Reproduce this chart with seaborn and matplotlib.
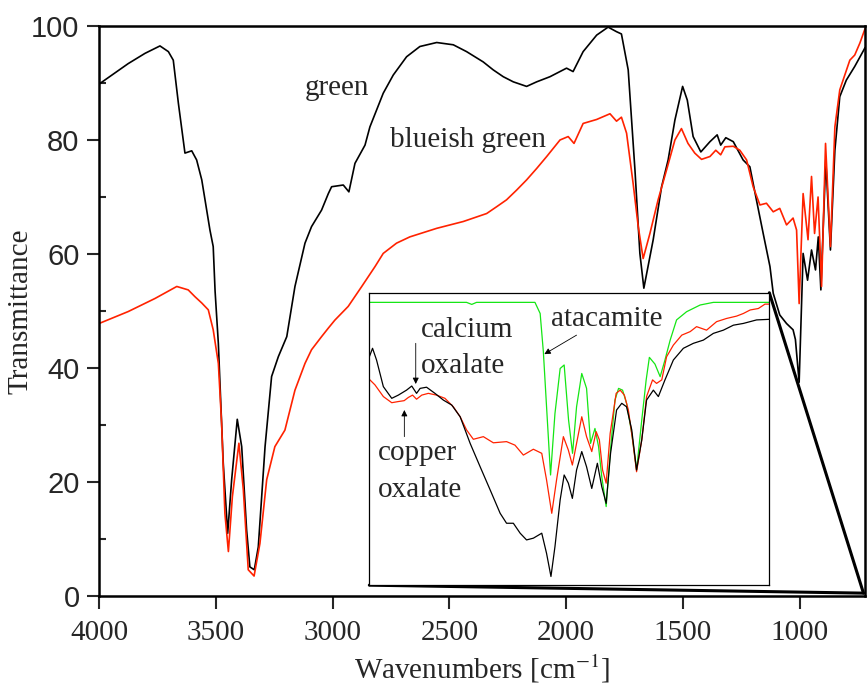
import numpy as np
import pandas as pd
import matplotlib
matplotlib.use("Agg")
import matplotlib.pyplot as plt
import seaborn as sns

# ---------- main spectra (wavenumber, transmittance) ----------
green_wn = [4000, 3875, 3803, 3739, 3703, 3682, 3660, 3632, 3603, 3582, 3560, 3525,
            3511, 3503, 3489, 3468, 3449, 3432, 3408, 3389, 3368, 3354, 3335, 3318,
            3289, 3261, 3232, 3196, 3161, 3118, 3090, 3047, 3018, 3004, 2954, 2930,
            2904, 2861, 2840, 2811, 2783, 2740, 2683, 2626, 2554, 2483, 2426, 2355,
            2312, 2269, 2226, 2169, 2126, 2069, 1998, 1970, 1927, 1869, 1820, 1784,
            1763, 1734, 1705, 1684, 1667, 1627, 1591, 1563, 1534, 1501, 1481, 1456,
            1423, 1384, 1353, 1338, 1316, 1284, 1242, 1213, 1185, 1156, 1127, 1113,
            1085, 1056, 1028, 1018, 1002, 985, 966, 949, 932, 920, 909, 888,
            868, 849, 828, 800, 764, 725, 720]
green_T = [89.8, 93.4, 95.2, 96.5, 95.5, 94.0, 86.4, 77.7, 78.1, 76.5, 73.0, 64.2,
           61.3, 53.5, 44.3, 23.3, 11.0, 20.4, 31.0, 26.2, 11.6, 5.1, 4.6, 8.6,
           26.2, 38.5, 42.0, 45.5, 54.3, 61.9, 64.8, 67.7, 70.6, 71.8, 72.1, 70.9,
           75.9, 79.1, 82.3, 85.3, 88.2, 91.4, 94.6, 96.4, 97.1, 96.7, 95.5, 93.7,
           92.3, 91.1, 90.2, 89.4, 90.2, 91.1, 92.6, 92.0, 95.5, 98.4, 99.8, 99.0,
           98.6, 92.3, 74.7, 60.1, 54.0, 62.5, 71.8, 76.5, 83.5, 89.4, 87.0, 80.6,
           77.9, 79.7, 80.9, 79.1, 80.4, 79.7, 76.5, 75.3, 69.5, 63.6, 57.8, 53.1,
           49.3, 47.8, 46.7, 45.0, 37.5, 60.1, 55.4, 60.7, 57.2, 63.0, 53.7, 76.5,
           60.7, 78.2, 87.6, 90.5, 92.9, 95.8, 96.2]

blue_wn = [4000, 3875, 3760, 3667, 3618, 3589, 3560, 3532, 3511, 3489, 3475, 3461,
           3446, 3429, 3401, 3382, 3361, 3336, 3311, 3282, 3247, 3204, 3161, 3118,
           3090, 3047, 3018, 2990, 2933, 2875, 2818, 2783, 2726, 2669, 2554, 2440,
           2340, 2297, 2255, 2212, 2169, 2126, 2083, 2026, 1991, 1966, 1927, 1869,
           1812, 1784, 1763, 1741, 1713, 1691, 1670, 1641, 1606, 1570, 1534, 1506,
           1478, 1449, 1420, 1384, 1359, 1338, 1320, 1284, 1256, 1227, 1199, 1170,
           1142, 1113, 1085, 1056, 1028, 1013, 1002, 985, 964, 949, 936, 921,
           906, 889, 868, 849, 828, 785, 764, 742, 720]
blue_T = [47.8, 49.9, 52.2, 54.3, 53.7, 52.5, 51.4, 50.2, 46.7, 40.8, 30.3, 14.5,
          7.8, 17.4, 26.8, 18.6, 4.6, 3.5, 9.2, 20.4, 26.2, 29.1, 36.1, 40.8,
          43.2, 45.5, 47.0, 48.4, 50.8, 54.3, 57.8, 60.1, 61.9, 63.0, 64.5, 65.7,
          67.1, 68.3, 69.5, 71.2, 73.0, 75.0, 77.1, 80.0, 80.6, 79.4, 82.9, 83.6,
          84.6, 83.3, 84.0, 81.2, 72.4, 64.8, 59.2, 63.6, 69.5, 74.7, 80.0, 82.0,
          79.4, 77.7, 76.6, 77.1, 78.2, 77.4, 78.8, 78.9, 78.2, 76.5, 71.8, 68.6,
          68.9, 67.4, 68.0, 65.1, 66.3, 64.2, 51.3, 70.6, 62.5, 73.6, 63.6, 70.0,
          54.3, 79.4, 61.3, 82.3, 88.8, 94.0, 94.9, 97.0, 99.5]

# ---------- inset spectra (relative position %, relative level %) ----------
ins_green_pos = [0, 24.3, 25.6, 26.8, 41.4, 42.7, 43.5, 44.3, 45.3, 46.4, 47.7, 48.7,
                 49.8, 50.8, 51.8, 53.1, 54.3, 55.3, 56.4, 57.3, 58.1, 59.2, 60.2, 61.4,
                 62.3, 63.3, 64.3, 65.6, 66.8, 68.1, 69.2, 70.0, 71.4, 72.7, 73.9, 75.2,
                 76.8, 79.3, 82.7, 86.0, 100]
ins_green_val = [96.7, 96.7, 96.0, 96.7, 96.7, 92.9, 79.8, 61.0, 37.7, 58.7, 74.1, 75.3,
                 56.5, 45.1, 61.0, 72.4, 67.3, 48.5, 53.6, 47.4, 37.1, 26.9, 45.1, 63.3,
                 67.3, 66.7, 62.2, 51.9, 39.4, 56.5, 70.2, 77.9, 75.6, 71.3, 77.0, 83.8,
                 90.7, 93.5, 95.8, 96.7, 96.7]

ins_red_pos = [0, 1.4, 3.5, 5.6, 7.25, 8.7, 9.75, 10.8, 11.8, 13.1, 14.75, 16.8, 18.9,
               21.0, 22.7, 24.3, 26.0, 28.5, 31.0, 34.3, 36.4, 38.5, 41.0, 43.1, 44.3,
               45.6, 46.8, 48.5, 49.75, 50.75, 51.8, 53.1, 54.3, 55.6, 56.7, 57.5, 58.3,
               59.2, 60.2, 61.7, 62.7, 63.75, 64.75, 65.8, 66.8, 68.1, 69.3, 70.8, 71.8,
               73.1, 74.3, 76.0, 78.1, 80.2, 81.8, 84.3, 86.8, 89.3, 91.8, 93.5, 95.2,
               97.25, 98.9, 100]
ins_red_val = [70.4, 68.5, 64.5, 62.4, 62.8, 63.1, 64.2, 65.0, 63.6, 65.0, 65.6, 65.0, 63.9,
               61.0, 57.6, 53.1, 49.9, 50.8, 48.7, 49.1, 47.9, 44.5, 46.5, 45.1, 36.0,
               24.6, 36.0, 50.8, 46.2, 41.1, 48.5, 57.6, 50.8, 45.7, 52.5, 49.7, 39.4,
               34.9, 51.9, 65.6, 66.7, 65.0, 59.9, 49.7, 38.8, 49.7, 64.5, 70.2, 69.0,
               70.2, 78.1, 82.1, 85.5, 86.7, 88.4, 87.2, 90.1, 91.2, 92.0, 92.9, 94.1,
               94.6, 96.1, 96.1]

ins_black_pos = [0, 0.8, 1.8, 3.5, 5.6, 7.25, 9.3, 10.6, 11.8, 12.7, 14.3, 16.4, 18.5,
                 20.6, 22.7, 25.2, 27.7, 30.2, 32.7, 34.3, 36.0, 37.7, 39.3, 41.0, 43.1,
                 44.3, 45.4, 46.4, 47.7, 48.7, 49.75, 50.75, 51.8, 53.1, 54.3, 55.6, 57.0,
                 58.1, 59.2, 60.3, 61.8, 63.1, 64.3, 65.6, 66.8, 68.1, 69.3, 71.0, 72.25,
                 73.9, 76.0, 78.5, 81.0, 83.5, 86.0, 88.5, 91.0, 93.5, 96.8, 100]
ins_black_val = [78.1, 81.0, 77.0, 67.9, 63.9, 65.0, 66.7, 68.1, 65.6, 67.3, 67.7, 65.6, 63.3,
                 61.6, 57.6, 48.5, 40.5, 32.6, 24.6, 21.2, 21.2, 17.8, 15.5, 16.1, 17.8,
                 10.9, 3.0, 13.2, 29.2, 37.7, 34.9, 29.7, 39.4, 45.7, 40.5, 33.1, 41.7,
                 33.7, 28.0, 45.1, 59.9, 62.2, 61.0, 53.1, 39.4, 49.7, 63.3, 66.7, 64.5,
                 70.2, 77.0, 81.0, 82.7, 83.8, 86.1, 87.2, 88.9, 89.5, 90.7, 90.9]

RED = '#ff2200'
GREEN = '#14e614'

sns.set_theme(style='ticks')
plt.rcParams['font.family'] = ['Liberation Serif', 'DejaVu Serif']
plt.rcParams['mathtext.fontset'] = 'stix'
FS = 21

fig = plt.figure(figsize=(8.67, 6.91), dpi=100)
ax = fig.add_axes([0.1142, 0.1375, 0.8835, 0.8249])

main_df = pd.concat([
    pd.DataFrame({'wn': green_wn, 'T': green_T, 'sample': 'green'}),
    pd.DataFrame({'wn': blue_wn, 'T': blue_T, 'sample': 'blueish green'}),
])
sns.lineplot(data=main_df, x='wn', y='T', hue='sample', palette={'green': 'black', 'blueish green': RED},
             sort=False, estimator=None, ax=ax, legend=False, linewidth=1.2)

ax.set_xlim(4000, 720)
ax.set_ylim(0, 100)
ax.set_xticks([4000, 3500, 3000, 2500, 2000, 1500, 1000])
ax.set_yticks([0, 20, 40, 60, 80, 100])
ax.set_yticks([10, 30, 50, 70, 90], minor=True)
ax.tick_params(axis='x', which='major', direction='out', length=9, width=1.5, labelsize=FS, pad=8)
ax.tick_params(axis='y', which='major', direction='out', length=9, width=1.5, pad=5)
ax.tick_params(axis='y', which='minor', direction='in', length=5, width=1.5)
for lbl in ax.get_yticklabels():
    lbl.set_fontfamily('Liberation Sans')
    lbl.set_fontsize(FS)
for s in ax.spines.values():
    s.set_linewidth(1.8)
    s.set_color('black')

ax.set_xlabel('Wavenumbers [cm$^{-1}$]', fontsize=FS, labelpad=5)
ax.set_ylabel('Transmittance', fontsize=FS)
ax.yaxis.set_label_coords(-0.086, 0.5)

ax.text(3118, 87.9, 'green', fontsize=FS, ha='left', va='baseline')
ax.text(2754, 78.8, 'blueish green', fontsize=FS, ha='left', va='baseline')

# zoom connector lines
ax.plot([0.3529, 0.998], [0.019, 0.005], color='black', lw=2.2, transform=ax.transAxes, clip_on=False, zorder=5)
ax.plot([0.8751, 0.998], [0.532, 0.005], color='black', lw=2.2, transform=ax.transAxes, clip_on=False, zorder=5)

# ---------- inset ----------
ins = fig.add_axes([0.426, 0.153, 0.4614, 0.4234])
ins.set_facecolor('white')
ins_df = pd.concat([
    pd.DataFrame({'pos': ins_green_pos, 'val': ins_green_val, 's': 'atacamite'}),
    pd.DataFrame({'pos': ins_red_pos, 'val': ins_red_val, 's': 'blueish green'}),
    pd.DataFrame({'pos': ins_black_pos, 'val': ins_black_val, 's': 'green'}),
])
sns.lineplot(data=ins_df, x='pos', y='val', hue='s',
             palette={'atacamite': GREEN, 'blueish green': RED, 'green': 'black'},
             sort=False, estimator=None, ax=ins, legend=False, linewidth=0.9)
ins.set_xlim(0, 100)
ins.set_ylim(0, 100)
ins.set_xticks([])
ins.set_yticks([])
ins.set_xlabel('')
ins.set_ylabel('')
for s in ins.spines.values():
    s.set_linewidth(0.9)
    s.set_color('black')

ins.text(12.9, 85.0, 'calcium', fontsize=FS, ha='left', va='baseline')
ins.text(12.9, 72.4, 'oxalate', fontsize=FS, ha='left', va='baseline')
ins.text(45.3, 88.6, 'atacamite', fontsize=FS, ha='left', va='baseline')
ins.text(2.25, 42.8, 'copper', fontsize=FS, ha='left', va='baseline')
ins.text(2.25, 30.1, 'oxalate', fontsize=FS, ha='left', va='baseline')

arrow = dict(arrowstyle='-|>', lw=0.6, color='black', mutation_scale=9, shrinkA=0, shrinkB=0)
ins.annotate('', xy=(11.6, 68.8), xytext=(11.6, 82.7), arrowprops=arrow)
ins.annotate('', xy=(8.75, 59.9), xytext=(8.75, 50.8), arrowprops=arrow)
ins.annotate('', xy=(43.75, 79.0), xytext=(51.8, 85.5), arrowprops=arrow)

fig.savefig('out.png', dpi=100)
